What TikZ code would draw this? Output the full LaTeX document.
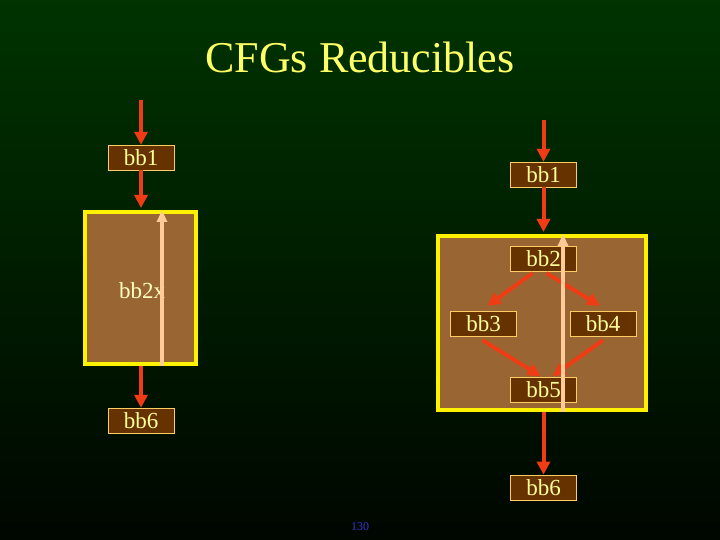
\documentclass[tikz,border=0pt]{standalone}
\usepackage{fontspec}
\setmainfont{Liberation Serif}
\usepackage{xcolor}
\usepackage{tikz}
\usetikzlibrary{positioning,arrows.meta}

\definecolor{slidetop}{HTML}{003300}
\definecolor{slidebottom}{HTML}{000600}
\definecolor{flowred}{RGB}{240,60,20}
\definecolor{backpeach}{HTML}{FFCC99}
\definecolor{boxbrown}{HTML}{663300}
\definecolor{boxedge}{HTML}{FFCC66}
\definecolor{boxtext}{HTML}{FFFF99}
\definecolor{regionbrown}{HTML}{996633}
\definecolor{titleyellow}{HTML}{FFFF66}
\definecolor{pageblue}{HTML}{3333CC}

\begin{document}
\begin{tikzpicture}[
  x=1pt, y=-1pt,
  flow/.style={draw=flowred, line width=4pt, -{Triangle[width=13pt,length=13pt]}},
  back/.style={draw=backpeach, line width=3.5pt, -{Triangle[width=10pt,length=12pt]}},
  bb/.style={draw=boxedge, fill=boxbrown, text=boxtext, minimum width=66pt, minimum height=25pt, inner sep=0pt, font=\fontsize{23}{23}\selectfont},
  region/.style={draw=yellow, line width=4pt, fill=regionbrown},
  plain/.style={text=boxtext!60!white, font=\fontsize{23}{23}\selectfont},
]
% slide background
\fill[top color=slidetop, bottom color=slidebottom] (0,0) rectangle (720,540);
\node[text=titleyellow, font=\fontsize{44}{44}\selectfont] (title) at (360,57) {CFGs Reducibles};

% left graph: bb2 collapsed
\coordinate (lin) at (141,100);
\node[bb] (l1) at (141,157.5) {bb1};
\node[region, minimum width=111pt, minimum height=152pt] (lreg) at (140.5,288) {};
\node[plain] (l2x) at (142,291) {bb2x};
\node[bb] (l6) at (141,420.5) {bb6};
\draw[flow] (lin) -- (l1);
\draw[flow, shorten >=2pt] (l1.south) -- (l1.south |- lreg.north);
\draw[flow] (l6.north |- lreg.south) -- (l6.north);
\draw[back] ([xshift=21.5pt]lreg.south) -- ([xshift=21.5pt]lreg.north);

% right graph
\coordinate (rin) at (543.5,120);
\node[bb] (r1) at (543.5,174.5) {bb1};
\node[region, minimum width=208pt, minimum height=174pt] (rreg) at (542,323) {};
\node[bb] (r2) at (543.5,258.5) {bb2};
\node[bb] (r3) at (483.5,323.5) {bb3};
\node[bb] (r4) at (603,323.5) {bb4};
\node[bb, below=106pt of r2] (r5) {bb5};
\node[bb, below=72pt of r5] (r6) {bb6};
\draw[flow] (rin) -- (r1);
\draw[flow, shorten >=2pt] (r1.south) -- (r1.south |- rreg.north);
\draw[flow] ([xshift=-11pt,yshift=-2pt]r2.south) -- ([xshift=4pt,yshift=5pt]r3.north);
\draw[flow] ([xshift=3pt,yshift=-2pt]r2.south) -- ([xshift=-3pt,yshift=5pt]r4.north);
\draw[flow] ([xshift=-1pt,yshift=-4pt]r3.south) -- ([xshift=-3pt,yshift=1pt]r5.north);
\draw[flow] ([yshift=-4pt]r4.south) -- ([xshift=9pt,yshift=1pt]r5.north);
\draw[flow] (r6.north |- rreg.south) -- (r6.north);
\draw[back] ([xshift=21pt]rreg.south) -- ([xshift=21pt]rreg.north);

\node[text=pageblue, font=\fontsize{12}{12}\selectfont] (pnum) at (360,527) {130};
\end{tikzpicture}
\end{document}
